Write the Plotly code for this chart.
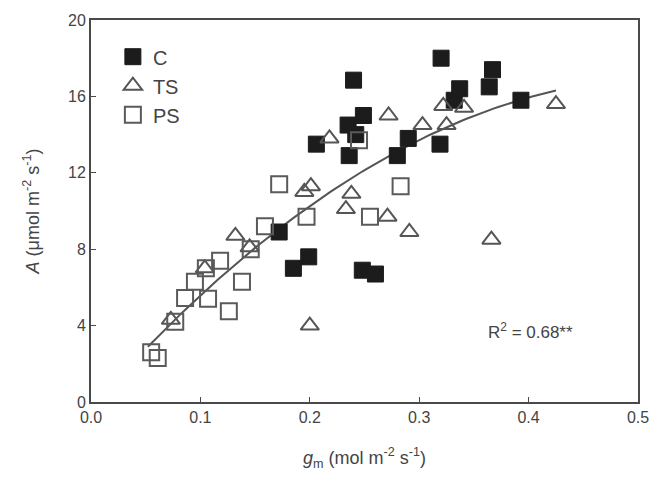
import numpy as np
import plotly.graph_objects as go

# Mesophyll conductance (gm) vs net photosynthesis (A) for three treatments
c_gm = [0.172, 0.185, 0.199, 0.206, 0.235, 0.236, 0.240, 0.242, 0.249, 0.248,
        0.260, 0.280, 0.290, 0.319, 0.320, 0.332, 0.337, 0.364, 0.367, 0.393]
c_a = [8.9, 7.0, 7.6, 13.5, 14.5, 12.9, 16.85, 14.0, 15.0, 6.9,
       6.7, 12.9, 13.8, 13.5, 18.0, 15.8, 16.4, 16.5, 17.4, 15.8]

ts_gm = [0.073, 0.104, 0.132, 0.145, 0.195, 0.201, 0.200, 0.218, 0.233, 0.238,
         0.271, 0.272, 0.291, 0.303, 0.322, 0.325, 0.341, 0.366, 0.425]
ts_a = [4.3, 7.0, 8.7, 8.1, 11.0, 11.3, 4.0, 13.8, 10.1, 10.9,
        9.7, 15.0, 8.9, 14.5, 15.5, 14.5, 15.4, 8.5, 15.6]

ps_gm = [0.055, 0.061, 0.077, 0.086, 0.095, 0.107, 0.105, 0.118, 0.126, 0.138,
         0.146, 0.159, 0.172, 0.197, 0.245, 0.255, 0.283]
ps_a = [2.6, 2.3, 4.2, 5.45, 6.3, 5.4, 7.0, 7.4, 4.75, 6.3,
        8.0, 9.2, 11.4, 9.7, 13.7, 9.7, 11.3]

# Quadratic regression over the pooled data: A = b0 + b1*gm + b2*gm^2
fit_b0, fit_b1, fit_b2 = -0.33, 65.2, -61.3
fit_range = [0.052, 0.425]
r2_label = "R<sup>2</sup> = 0.68**"

x_ticks = [0.0, 0.1, 0.2, 0.3, 0.4, 0.5]
y_ticks = [0, 4, 8, 12, 16, 20]

fit_x = np.linspace(fit_range[0], fit_range[1], 100)
fit_y = fit_b0 + fit_b1 * fit_x + fit_b2 * fit_x ** 2

font = "Liberation Sans, Arial, sans-serif"
fig = go.Figure()

fig.add_trace(go.Scatter(
    x=fit_x, y=fit_y, mode="lines", showlegend=False,
    line=dict(color="#555555", width=2), hoverinfo="skip"))

fig.add_trace(go.Scatter(
    x=c_gm, y=c_a, mode="markers", name="C",
    marker=dict(symbol="square", size=16, color="#1c1c1c",
                line=dict(color="#1c1c1c", width=1))))
fig.add_trace(go.Scatter(
    x=ts_gm, y=ts_a, mode="markers", name="TS",
    marker=dict(symbol="triangle-up-open", size=16, color="#555555",
                line=dict(width=2))))
fig.add_trace(go.Scatter(
    x=ps_gm, y=ps_a, mode="markers", name="PS",
    marker=dict(symbol="square-open", size=16, color="#5a5a5a",
                line=dict(width=2))))

fig.add_annotation(x=0.402, y=3.7, xref="x", yref="y", text=r2_label,
                   showarrow=False, font=dict(family=font, size=17, color="#444444"))

axis_common = dict(
    showgrid=False, zeroline=False, showline=True, mirror=True,
    linecolor="#4a4a4a", linewidth=2, ticks="inside", ticklen=5,
    tickcolor="#4a4a4a", tickwidth=1,
    tickfont=dict(family=font, size=16, color="#444444"))

fig.update_xaxes(range=[0, 0.5], tickvals=x_ticks, tickformat=".1f",
                 title=dict(text="<i>g</i><sub>m</sub> (mol m<sup>-2</sup> s<sup>-1</sup>)",
                            font=dict(family=font, size=18, color="#444444"), standoff=26),
                 **axis_common)
fig.update_yaxes(range=[0, 20], tickvals=y_ticks,
                 title=dict(text="<i>A</i> (μmol m<sup>-2</sup> s<sup>-1</sup>)",
                            font=dict(family=font, size=18, color="#444444"), standoff=24),
                 **axis_common)

fig.update_layout(
    width=661, height=477,
    margin=dict(l=91, r=15, t=16, b=73),
    paper_bgcolor="white", plot_bgcolor="white",
    legend=dict(x=0.04, y=0.955, xanchor="left", yanchor="top",
                bgcolor="rgba(0,0,0,0)", tracegroupgap=0, itemwidth=30,
                font=dict(family=font, size=20, color="#444444")),
)

fig.write_html("out.html")
